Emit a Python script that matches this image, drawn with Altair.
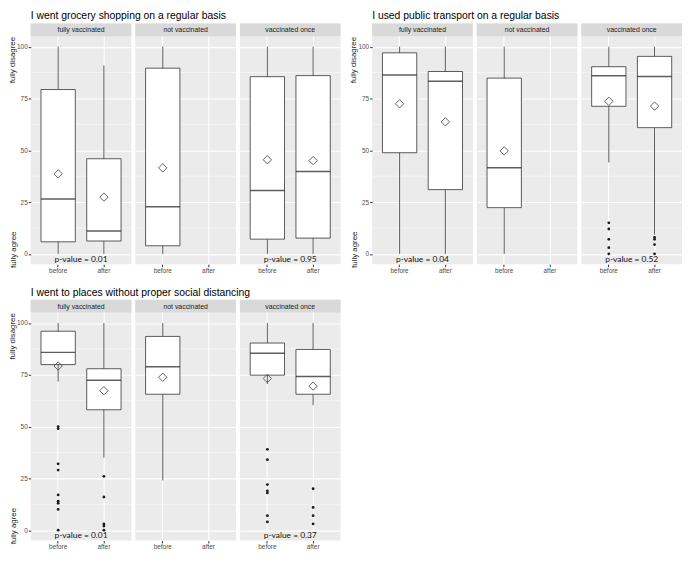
import altair as alt
import pandas as pd

questions = [
    "I went grocery shopping on a regular basis",
    "I used public transport on a regular basis",
    "I went to places without proper social distancing",
]
groups = ["fully vaccinated", "not vaccinated", "vaccinated once"]
times = ["before", "after"]

# box statistics (one row per question / group / time)
box_question = [0, 0, 0, 0, 0, 1, 1, 1, 1, 1, 2, 2, 2, 2, 2]
box_group = ["fully vaccinated", "fully vaccinated", "not vaccinated", "vaccinated once", "vaccinated once"] * 3
box_time = ["before", "after", "before", "before", "after"] * 3
box_lower = [0, 0, 0, 0, 0,
             0, 0, 0, 44.1, 9.3,
             71.7, 35, 24, 70.5, 60.3]
box_q1 = [5.8, 6.2, 3.9, 7.1, 7.6,
          48.8, 31, 22.3, 71.2, 60.9,
          79.9, 58.1, 65.6, 74.8, 65.6]
box_median = [26.5, 11, 22.7, 30.6, 39.7,
              86.3, 83.3, 41.6, 86, 85.6,
              85.8, 72.3, 78.9, 85.4, 74.2]
box_q3 = [79.3, 45.9, 89.6, 85.5, 86,
          97, 88, 84.8, 90.3, 95.3,
          96, 77.9, 93.5, 90.3, 87.2]
box_upper = [100, 90.9, 100, 100, 100,
             100, 100, 100, 100, 100,
             100, 100, 100, 100, 100]
box_mean = [38.6, 27.4, 41.5, 45.4, 45,
            72.4, 63.7, 49.7, 73.6, 71.3,
            79.2, 67.3, 73.8, 73.2, 69.5]

# outliers
out_question = [1] * 9 + [2] * 25
out_group = (["vaccinated once"] * 9
             + ["fully vaccinated"] * 14
             + ["vaccinated once"] * 11)
out_time = (["before"] * 5 + ["after"] * 4
            + ["before"] * 9 + ["after"] * 5
            + ["before"] * 7 + ["after"] * 4)
out_value = [15, 12, 7, 3, 0, 8, 7, 4.5, 0,
             50, 49, 32, 29, 17, 14, 13, 10, 0,
             26, 16, 3, 2, 0,
             39, 34, 22, 19, 18, 7, 4,
             20, 11, 7, 3]

# p-values
pval_question = [0, 0, 1, 1, 2, 2]
pval_group = ["fully vaccinated", "vaccinated once"] * 3
pval_text = ["p-value = 0.01", "p-value = 0.95", "p-value = 0.04",
             "p-value = 0.52", "p-value = 0.01", "p-value = 0.37"]

boxes = pd.DataFrame({"q": box_question, "group": box_group, "time": box_time,
                      "lower": box_lower, "q1": box_q1, "median": box_median,
                      "q3": box_q3, "upper": box_upper, "mean": box_mean})
outs = pd.DataFrame({"q": out_question, "group": out_group, "time": out_time,
                     "value": out_value})
pvals = pd.DataFrame({"q": pval_question, "group": pval_group, "text": pval_text})

W = 102
P = 231
S = 13
H = P + S
YMAX = 105 + S * 110 / P
PVAL_Y = -2.5
BANDW = W / 2.2 * 0.75

FONT = "Liberation Sans"
yscale = alt.Scale(domain=[-5, YMAX], nice=False, zero=False)
xscale = alt.Scale(domain=times, paddingInner=0.25, paddingOuter=0.225)


def ypix(v):
    return S + (105 - v) / 110 * P


def panel(qi, gi):
    g = groups[gi]
    first = gi == 0
    yaxis = alt.Axis(values=[0, 25, 50, 75, 100], grid=True, gridColor="white",
                     gridWidth=1.1, domain=False, labels=first, ticks=first,
                     labelFontSize=6.5, labelColor="#4D4D4D", labelFont=FONT,
                     tickColor="#333333", tickSize=2.5, labelPadding=1, title=None)
    xaxis = alt.Axis(grid=True, gridColor="white", gridWidth=1.1, bandPosition=0.5,
                     domain=False, labelAngle=0, labelFontSize=6.5,
                     labelColor="#4D4D4D", labelFont=FONT, tickColor="#333333",
                     tickSize=2.5, labelPadding=1, title=None)
    X = lambda f: alt.X(f, type="nominal", scale=xscale, axis=xaxis)
    Y = lambda f: alt.Y(f, type="quantitative", scale=yscale, axis=yaxis)

    bdf = boxes[(boxes.q == qi) & (boxes.group == g)]
    odf = outs[(outs.q == qi) & (outs.group == g)]
    pdf = pvals[(pvals.q == qi) & (pvals.group == g)].copy()
    pdf["py"] = PVAL_Y

    minor = alt.Chart(pd.DataFrame({"v": [12.5, 37.5, 62.5, 87.5]})).mark_rule(
        color="white", strokeWidth=0.5).encode(
        y=Y("v"), x=alt.value(0), x2=alt.value(W))
    vgrid = alt.Chart(pd.DataFrame({"time": times})).mark_rule(opacity=0).encode(
        x=X("time"), y=alt.value(S), y2=alt.value(H))
    layers = [minor, vgrid]

    if len(bdf):
        whisk = alt.Chart(bdf).mark_rule(color="#333333", strokeWidth=0.8).encode(
            x=X("time"), y=Y("lower"), y2="upper:Q")
        box = alt.Chart(bdf).mark_bar(fill="white", stroke="#333333",
                                      strokeWidth=0.8).encode(
            x=X("time"), y=Y("q1"), y2="q3:Q")
        med = alt.Chart(bdf).mark_tick(color="#1A1A1A", thickness=1.5,
                                       size=BANDW).encode(
            x=X("time"), y=Y("median"))
        mean = alt.Chart(bdf).mark_point(shape="diamond", filled=False, size=72,
                                         stroke="#4D4D4D", strokeWidth=0.9,
                                         opacity=1).encode(
            x=X("time"), y=Y("mean"))
        layers += [whisk, box, med, mean]
    if len(odf):
        layers.append(alt.Chart(odf).mark_circle(size=8, color="#1A1A1A",
                                                 opacity=1).encode(
            x=X("time"), y=Y("value")))
    if len(pdf):
        layers.append(alt.Chart(pdf).mark_text(font="Lato", fontSize=8.5,
                                               color="#111111",
                                               baseline="middle").encode(
            x=alt.value(W / 2), y=Y("py"), text="text:N"))

    sdf = pd.DataFrame({"group": [g]})
    strip = alt.Chart(sdf).mark_rect(fill="#D9D9D9").encode(
        x=alt.value(0), x2=alt.value(W), y=alt.value(0), y2=alt.value(S))
    stext = alt.Chart(sdf).mark_text(font=FONT, fontSize=7, color="#1A1A1A",
                                     baseline="middle").encode(
        x=alt.value(W / 2), y=alt.value(S / 2 + 0.5), text="group:N")
    layers += [strip, stext]

    if first:
        tdf = pd.DataFrame({"title": [questions[qi]],
                            "hi": ["fully disagree"], "lo": ["fully agree"]})
        title = alt.Chart(tdf).mark_text(font=FONT, fontSize=10.5, color="#000000",
                                         align="left", baseline="alphabetic").encode(
            x=alt.value(0), y=alt.value(-4), text="title:N")
        hi = alt.Chart(tdf).mark_text(font=FONT, fontSize=8, color="#1A1A1A",
                                      angle=270, baseline="middle").encode(
            x=alt.value(-18), y=alt.value(ypix(93.5)), text="hi:N")
        lo = alt.Chart(tdf).mark_text(font=FONT, fontSize=8, color="#1A1A1A",
                                      angle=270, baseline="middle").encode(
            x=alt.value(-17), y=alt.value(ypix(2)), text="lo:N")
        layers += [title, hi, lo]

    return alt.layer(*layers).properties(width=W, height=H)


def group_row(qi):
    return alt.hconcat(*[panel(qi, gi) for gi in range(3)], spacing=4,
                       bounds="flush")


chart = alt.vconcat(
    alt.hconcat(group_row(0), group_row(1), spacing=8),
    group_row(2),
    spacing=14,
).properties(padding=0, background="white").configure_view(
    fill="#EBEBEB", stroke=None)

chart.save("out.html", embed_options={"renderer": "svg", "actions": False})
